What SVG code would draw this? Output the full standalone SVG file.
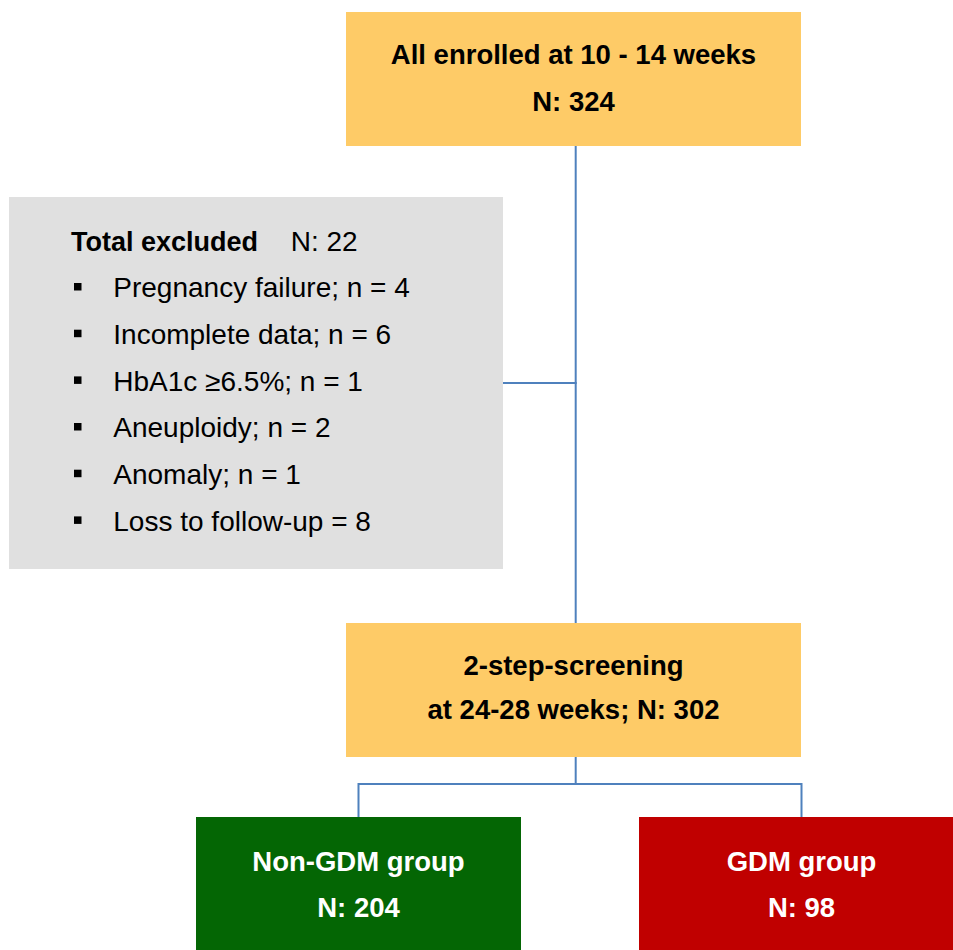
<svg xmlns="http://www.w3.org/2000/svg" width="953" height="950" viewBox="0 0 953 950">
<style>
.b{font-family:"Liberation Sans",Arial,sans-serif;font-weight:bold;font-size:27.5px;text-anchor:middle}
.r{font-family:"Liberation Sans",Arial,sans-serif;font-size:28px}
.t{font-family:"Liberation Sans",Arial,sans-serif;font-weight:bold;font-size:27px}
.w{fill:#ffffff}
.k{fill:#000000}
.gold{fill:#fecb67}
.conn{stroke:#4f81bd;stroke-width:2;fill:none}
</style>
<rect width="953" height="950" fill="#ffffff"/>
<g id="connectors">
<line class="conn" x1="575.7" y1="146" x2="575.7" y2="623"/>
<line class="conn" x1="503" y1="383" x2="576.7" y2="383"/>
<line class="conn" x1="575.7" y1="757" x2="575.7" y2="784"/>
<polyline class="conn" points="358.5,818 358.5,784 801.5,784 801.5,818"/>
</g>
<g id="enrolled">
<rect class="gold" x="346" y="12" width="455" height="134"/>
<text class="b k" x="573.5" y="64">All enrolled at 10 - 14 weeks</text>
<text class="b k" x="573.5" y="111">N: 324</text>
</g>
<g id="excluded">
<rect x="9" y="197" width="494" height="372" fill="#e0e0e0"/>
<text class="t k" x="71" y="250.7">Total excluded</text>
<text class="r k" x="290.7" y="250.7">N: 22</text>
<g class="k">
<rect x="74" y="283" width="7.5" height="7.5"/>
<rect x="74" y="329.7" width="7.5" height="7.5"/>
<rect x="74" y="376.4" width="7.5" height="7.5"/>
<rect x="74" y="423" width="7.5" height="7.5"/>
<rect x="74" y="469.7" width="7.5" height="7.5"/>
<rect x="74" y="516.4" width="7.5" height="7.5"/>
</g>
<text class="r k" x="113.3" y="297.3">Pregnancy failure; n = 4</text>
<text class="r k" x="113.3" y="344">Incomplete data; n = 6</text>
<text class="r k" x="113.3" y="390.7">HbA1c ≥6.5%; n = 1</text>
<text class="r k" x="113.3" y="437.3">Aneuploidy; n = 2</text>
<text class="r k" x="113.3" y="484">Anomaly; n = 1</text>
<text class="r k" x="113.3" y="530.7">Loss to follow-up = 8</text>
</g>
<g id="screening">
<rect class="gold" x="346" y="623" width="455" height="134"/>
<text class="b k" x="573.5" y="675">2-step-screening</text>
<text class="b k" x="573.5" y="719">at 24-28 weeks; N: 302</text>
</g>
<g id="nongdm">
<rect x="196" y="817" width="325" height="140" fill="#046604"/>
<text class="b w" x="358.5" y="870.7">Non-GDM group</text>
<text class="b w" x="358.5" y="917">N: 204</text>
</g>
<g id="gdm">
<rect x="639" y="817" width="325" height="140" fill="#c00000"/>
<text class="b w" x="801.5" y="870.7">GDM group</text>
<text class="b w" x="801.5" y="917">N: 98</text>
</g>
</svg>
